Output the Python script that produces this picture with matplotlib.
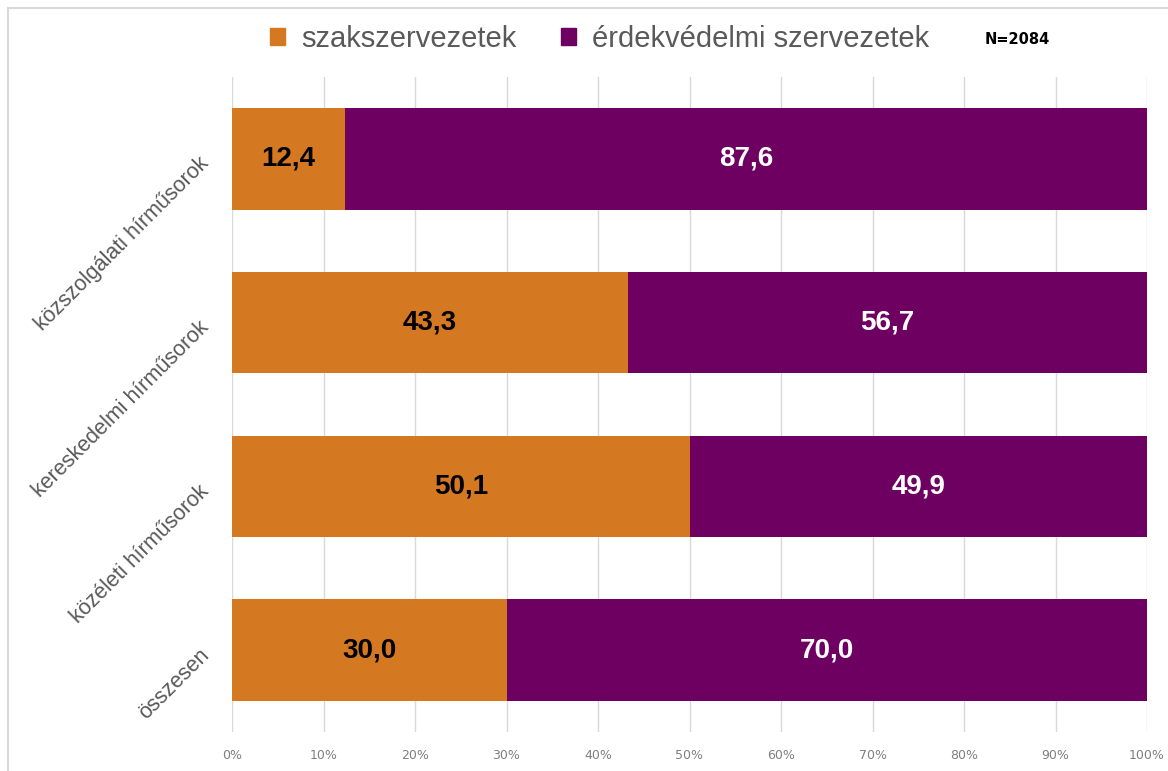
import matplotlib.pyplot as plt
from matplotlib.lines import Line2D
from matplotlib.patches import Patch

categories = ["közszolgálati hírműsorok", "kereskedelmi hírműsorok",
              "közéleti hírműsorok", "összesen"]
szak = [12.4, 43.3, 50.1, 30.0]
erdek = [87.6, 56.7, 49.9, 70.0]
series_names = ["szakszervezetek", "érdekvédelmi szervezetek"]
ticks = list(range(0, 101, 10))
tick_labels = [f"{t}%" for t in ticks]

orange = "#D47822"
purple = "#6E0062"
grey = "#595959"

fig = plt.figure(figsize=(11.68, 7.71), dpi=100)
ax = fig.add_axes([232 / 1168, 1 - 732 / 771, (1147 - 232) / 1168, (732 - 77) / 771])

y = list(range(len(categories)))
ax.barh(y, szak, height=0.62, color=orange, zorder=3)
ax.barh(y, erdek, left=szak, height=0.62, color=purple, zorder=3)

for i in y:
    ax.text(szak[i] / 2, i, f"{szak[i]:.1f}".replace(".", ","), ha="center", va="center",
            fontsize=20, fontweight="bold", color="black", family="Liberation Sans", zorder=4)
    ax.text(szak[i] + erdek[i] / 2, i, f"{erdek[i]:.1f}".replace(".", ","), ha="center",
            va="center", fontsize=20, fontweight="bold", color="white",
            family="Liberation Sans", zorder=4)

ax.set_xlim(0, 100)
ax.set_ylim(len(categories) - 0.5, -0.5)
ax.set_xticks(ticks)
ax.set_xticklabels(tick_labels, fontsize=9, color="#7F7F7F")
ax.tick_params(axis="x", length=0, pad=12)
ax.set_yticks(y)
ax.set_yticklabels(categories, rotation=45, ha="right", va="center_baseline",
                   rotation_mode="anchor", fontsize=15.5, color=grey,
                   family="Liberation Sans")
ax.tick_params(axis="y", length=0, pad=20)
ax.grid(axis="x", color="#D9D9D9", linewidth=1, zorder=0)
for s in ax.spines.values():
    s.set_visible(False)

handles = [Patch(color=orange), Patch(color=purple)]
fig.legend(handles, series_names, loc="center left", bbox_to_anchor=(244 / 1168, 1 - 39 / 771),
           ncol=2, frameon=False, handlelength=0.5, handleheight=0.5,
           handletextpad=0.55, columnspacing=1.55, labelcolor=grey,
           prop={"family": "Liberation Sans", "size": 21})
fig.text(985 / 1168, 1 - 39 / 771, "N=2084", fontsize=10.5, fontweight="bold",
         va="center", ha="left")

fig.add_artist(Line2D([8 / 1168, 8 / 1168], [0, 1 - 8 / 771], color="#D9D9D9", lw=1.5))
fig.add_artist(Line2D([8 / 1168, 1], [1 - 8 / 771, 1 - 8 / 771], color="#D9D9D9", lw=1.5))

fig.savefig("out.png", dpi=100)
